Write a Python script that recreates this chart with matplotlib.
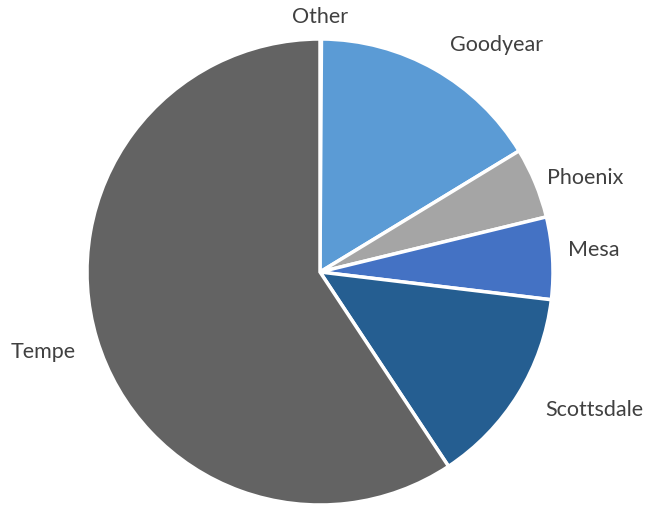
import matplotlib.pyplot as plt

# slices, clockwise from 12 o'clock
labels = ["Other", "Goodyear", "Phoenix", "Mesa", "Scottsdale", "Tempe"]
shares = [0.1, 16.2, 4.9, 5.7, 13.8, 59.3]
colors = ["#9E480E", "#5B9BD5", "#A5A5A5", "#4472C4", "#255E91", "#636363"]

# where the labels sit (axes data units, pie radius = 1), as in the Excel "best fit"
label_xy = [(0.0, 1.094), (0.558, 0.974), (0.974, 0.403),
            (1.064, 0.094), (0.966, -0.592), (-1.047, -0.343)]

plt.rcParams['font.family'] = ['Lato', 'DejaVu Sans']

fig = plt.figure(figsize=(6.47, 5.07), dpi=100)
# pie centre ~ (320, 272) px, radius ~233 px
ax = fig.add_axes([(320 - 233) / 647, (507 - 272 - 233) / 507, 466 / 647, 466 / 507])

wedges, texts = ax.pie(shares, labels=labels, colors=colors, startangle=90,
                       counterclock=False, labeldistance=1.1, radius=1.0,
                       wedgeprops=dict(edgecolor="white", linewidth=2.5),
                       textprops=dict(fontsize=15.5, color="#404040"))
for t, (x, y) in zip(texts, label_xy):
    t.set_position((x, y))
    if abs(x) < 0.05:
        t.set_horizontalalignment("center")
ax.set_xlim(-1, 1)
ax.set_ylim(-1, 1)
ax.set_aspect("equal")

fig.savefig("out.png", dpi=100)
